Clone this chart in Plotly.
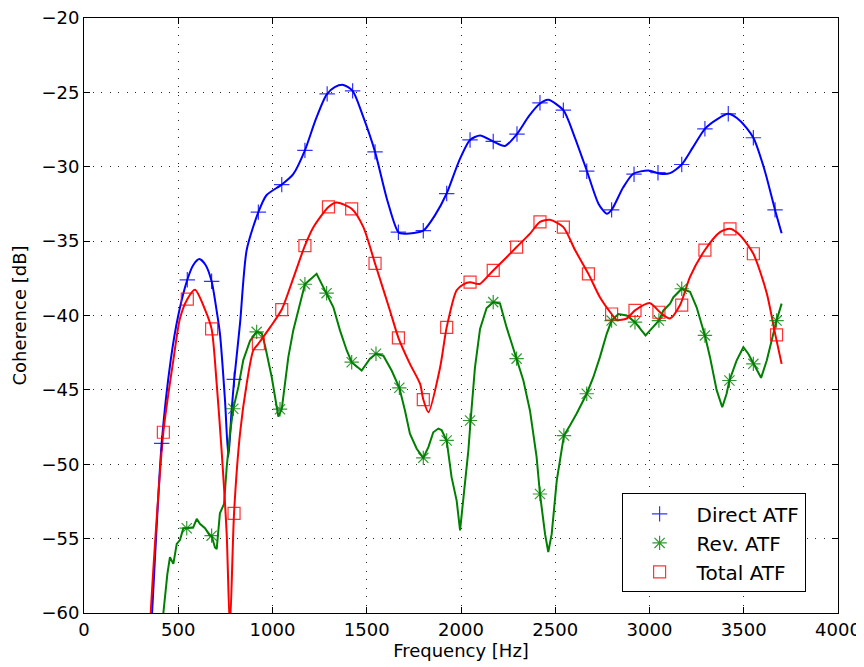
import plotly.graph_objects as go

# ---------------- data ----------------
# Direct ATF line
direct_f = [340, 361, 412, 460, 500, 548, 580, 612, 645, 677, 704, 721, 748, 766, 783, 797,
            828, 863, 925, 969, 1049, 1110, 1172, 1230, 1287, 1330, 1376, 1425, 1480, 1544,
            1610, 1668, 1703, 1750, 1800, 1860, 1924, 1990, 2048, 2101, 2171, 2233, 2297,
            2360, 2419, 2463, 2543, 2600, 2667, 2730, 2773, 2799, 2860, 2914, 2994, 3056,
            3109, 3171, 3230, 3294, 3360, 3418, 3480, 3551, 3610, 3666, 3701]
direct_db = [-64.5, -60.0, -48.6, -43.0, -40.0, -37.6, -36.6, -36.2, -36.6, -37.7, -39.7, -41.2,
             -45.7, -49.5, -46.4, -44.3, -40.5, -35.6, -33.05, -31.9, -31.2, -30.5, -28.9,
             -26.8, -25.15, -24.65, -24.5, -24.9, -26.6, -29.0, -32.3, -34.4, -34.5, -34.45,
             -34.3, -33.3, -31.8, -29.6, -28.2, -27.9, -28.3, -28.6, -27.8, -26.6, -25.75,
             -25.5, -26.2, -27.9, -30.25, -32.5, -33.16, -32.9, -31.4, -30.47, -30.25, -30.47,
             -30.43, -29.85, -28.7, -27.45, -26.8, -26.44, -26.9, -28.05, -30.2, -32.9, -34.47]
direct_mf = [412, 548, 677, 797, 925, 1049, 1172, 1290, 1425, 1544, 1668, 1800, 1924, 2048,
             2171, 2297, 2419, 2543, 2667, 2799, 2918, 3045, 3171, 3294, 3418, 3551, 3666]
direct_mdb = [-48.6, -37.6, -37.7, -44.3, -33.05, -31.2, -28.9, -25.1, -24.9, -29.0, -34.4,
              -34.3, -31.8, -28.2, -28.3, -27.8, -25.7, -26.2, -30.3, -32.9, -30.5, -30.4,
              -29.85, -27.45, -26.44, -28.05, -32.9]

# Rev. ATF line
rev_f = [415, 421, 442, 456, 474, 492, 509, 527, 545, 580, 598, 615, 642, 668, 677, 695, 704,
         721, 743, 757, 774, 792, 819, 845, 881, 916, 943, 960, 996, 1031, 1049, 1084, 1110,
         1137, 1172, 1234, 1287, 1323, 1358, 1394, 1420, 1473, 1517, 1549, 1588, 1632, 1673,
         1703, 1729, 1765, 1800, 1827, 1853, 1880, 1897, 1924, 1950, 1977, 1995, 2012, 2039,
         2051, 2074, 2101, 2136, 2171, 2207, 2242, 2295, 2331, 2366, 2401, 2419, 2446, 2463,
         2481, 2508, 2525, 2546, 2578, 2613, 2667, 2702, 2737, 2773, 2799, 2835, 2879, 2923,
         2979, 3020, 3050, 3074, 3109, 3127, 3171, 3215, 3250, 3294, 3321, 3356, 3386, 3409,
         3424, 3462, 3498, 3524, 3551, 3592, 3622, 3648, 3674, 3701]
rev_db = [-63.0, -60.0, -57.4, -56.25, -56.7, -55.35, -55.1, -54.3, -54.3, -54.23, -53.67,
          -54.0, -54.3, -54.8, -54.8, -55.6, -55.7, -53.3, -52.66, -50.2, -47.95, -46.27,
          -44.8, -43.0, -41.7, -41.1, -41.2, -42.0, -44.15, -46.8, -46.3, -42.8, -41.0,
          -39.66, -37.9, -37.2, -38.5, -39.45, -41.0, -42.35, -43.14, -43.7, -42.9, -42.57,
          -42.7, -43.7, -44.86, -46.4, -47.95, -48.96, -49.57, -48.85, -47.85, -47.6, -47.7,
          -48.4, -50.87, -52.44, -54.45, -52.44, -49.08, -47.06, -43.5, -40.9, -39.5, -39.1,
          -39.2, -40.8, -42.9, -44.37, -46.4, -49.5, -52.0, -54.7, -55.9, -54.7, -51.1,
          -49.75, -48.07, -47.4, -46.6, -45.26, -44.15, -42.8, -41.23, -40.34, -39.9, -40.0,
          -40.45, -41.34, -40.8, -40.34, -39.66, -39.2, -38.77, -38.2, -38.4, -39.45, -41.34,
          -42.8, -45.0, -46.17, -45.26, -44.37, -43.03, -42.13, -42.57, -43.25, -44.19,
          -43.03, -41.7, -40.34, -39.2]
rev_mf = [545, 677, 792, 916, 1040, 1172, 1287, 1420, 1549, 1673, 1800, 1924, 2048, 2171,
          2295, 2419, 2546, 2667, 2799, 2923, 3050, 3171, 3294, 3424, 3551, 3674]
rev_mdb = [-54.3, -54.8, -46.27, -41.1, -46.3, -37.9, -38.5, -43.14, -42.57, -44.86, -49.57,
           -48.4, -47.06, -39.1, -42.9, -52.0, -48.07, -45.26, -40.34, -40.45, -40.34, -38.2,
           -41.34, -44.37, -43.25, -40.34]

# Total ATF line
total_f = [340, 354, 421, 474, 509, 548, 589, 642, 677, 704, 730, 757, 774, 796, 828, 863,
           898, 925, 987, 1049, 1110, 1172, 1217, 1297, 1340, 1420, 1482, 1544, 1623, 1668,
           1729, 1783, 1800, 1827, 1889, 1924, 1977, 2013, 2048, 2083, 2101, 2171, 2242,
           2295, 2366, 2419, 2472, 2543, 2605, 2676, 2737, 2799, 2826, 2879, 2923, 3003,
           3056, 3109, 3162, 3215, 3294, 3374, 3427, 3480, 3551, 3622, 3666, 3701]
total_db = [-65.0, -60.0, -47.85, -43.0, -40.2, -38.9, -38.27, -39.6, -40.9, -44.6, -49.07,
            -54.7, -61.0, -53.3, -47.9, -44.6, -42.35, -41.9, -40.8, -39.6, -37.5, -35.3,
            -34.06, -32.7, -32.4, -32.83, -34.06, -36.5, -39.66, -41.5, -43.25, -44.6, -45.65,
            -46.5, -43.5, -40.8, -38.3, -37.9, -37.76, -37.87, -37.87, -36.97, -36.08, -35.4,
            -34.5, -33.7, -33.57, -34.06, -35.6, -37.2, -38.77, -39.9, -40.3, -40.2, -39.66,
            -39.17, -39.78, -40.2, -39.3, -37.4, -35.6, -34.4, -34.17, -34.6, -35.85, -38.5,
            -41.2, -43.25]
total_mf = [421, 548, 677, 796, 925, 1049, 1172, 1297, 1420, 1544, 1668, 1800, 1924, 2048,
            2171, 2295, 2419, 2543, 2676, 2799, 2923, 3050, 3171, 3294, 3427, 3551, 3674]
total_mdb = [-47.85, -38.9, -40.9, -53.3, -41.9, -39.6, -35.3, -32.7, -32.83, -36.5, -41.5,
             -45.65, -40.8, -37.76, -36.97, -35.4, -33.7, -34.06, -37.2, -39.9, -39.66,
             -39.78, -39.3, -35.6, -34.17, -35.85, -41.3]

x_ticks = [0, 500, 1000, 1500, 2000, 2500, 3000, 3500, 4000]
y_ticks = [-60, -55, -50, -45, -40, -35, -30, -25, -20]

BLUE = "rgb(0,0,255)"
GREEN = "rgb(0,128,0)"
RED = "rgb(255,0,0)"
FONT = "DejaVu Sans"

fig = go.Figure()

# lines (no legend)
fig.add_trace(go.Scatter(x=direct_f, y=direct_db, mode="lines", showlegend=False,
                         line=dict(color=BLUE, width=2, shape="spline", smoothing=0.7),
                         hoverinfo="skip"))
fig.add_trace(go.Scatter(x=rev_f, y=rev_db, mode="lines", showlegend=False,
                         line=dict(color=GREEN, width=2), hoverinfo="skip"))
fig.add_trace(go.Scatter(x=total_f, y=total_db, mode="lines", showlegend=False,
                         line=dict(color=RED, width=2, shape="spline", smoothing=0.7),
                         hoverinfo="skip"))

# markers (legend entries)
fig.add_trace(go.Scatter(x=direct_mf, y=direct_mdb, mode="markers", name="Direct ATF",
                         marker=dict(symbol="cross-thin", size=11, color=BLUE, opacity=0.8,
                                     line=dict(color=BLUE, width=1.2)),
                         cliponaxis=True))
fig.add_trace(go.Scatter(x=rev_mf, y=rev_mdb, mode="markers", name="Rev. ATF",
                         marker=dict(symbol="asterisk", size=12, color=GREEN, opacity=0.8,
                                     line=dict(color=GREEN, width=1.2)),
                         cliponaxis=True))
fig.add_trace(go.Scatter(x=total_mf, y=total_mdb, mode="markers", name="Total ATF",
                         marker=dict(symbol="square-open", size=12, color=RED, opacity=0.8,
                                     line=dict(color=RED, width=1.2)),
                         cliponaxis=True))

axis_common = dict(
    showgrid=True, gridcolor="rgba(0,0,0,0.85)", gridwidth=1, griddash="1px,7.5px",
    showline=True, linecolor="black", linewidth=1, mirror="ticks",
    ticks="inside", ticklen=6, tickcolor="black", tickwidth=1,
    zeroline=False, automargin=False, ticklabeloverflow="allow",
    tickfont=dict(family=FONT, size=18, color="black"),
)

# the page body adds an 8px offset, so the figure is 8px smaller and margins shifted
fig.update_layout(
    width=856, height=659,
    margin=dict(l=76, r=26, t=10, b=54),
    paper_bgcolor="white", plot_bgcolor="white",
    font=dict(family=FONT, size=18, color="black"),
    xaxis=dict(range=[0, 4000], tickvals=x_ticks, ticktext=[str(v) for v in x_ticks],
               title=dict(text="Frequency [Hz]", standoff=2,
                          font=dict(family=FONT, size=18, color="black")),
               **axis_common),
    yaxis=dict(range=[-60, -20], tickvals=y_ticks,
               ticktext=[("\u2212" + str(-v)) for v in y_ticks],
               title=dict(text="Coherence [dB]", standoff=10,
                          font=dict(family=FONT, size=18, color="black")),
               **axis_common),
    legend=dict(x=0.713, y=0.201, xanchor="left", yanchor="top",
                bgcolor="white", bordercolor="black", borderwidth=1,
                font=dict(family=FONT, size=20, color="black"),
                itemwidth=64, tracegroupgap=0),
    showlegend=True,
)

fig.write_html("out.html")
